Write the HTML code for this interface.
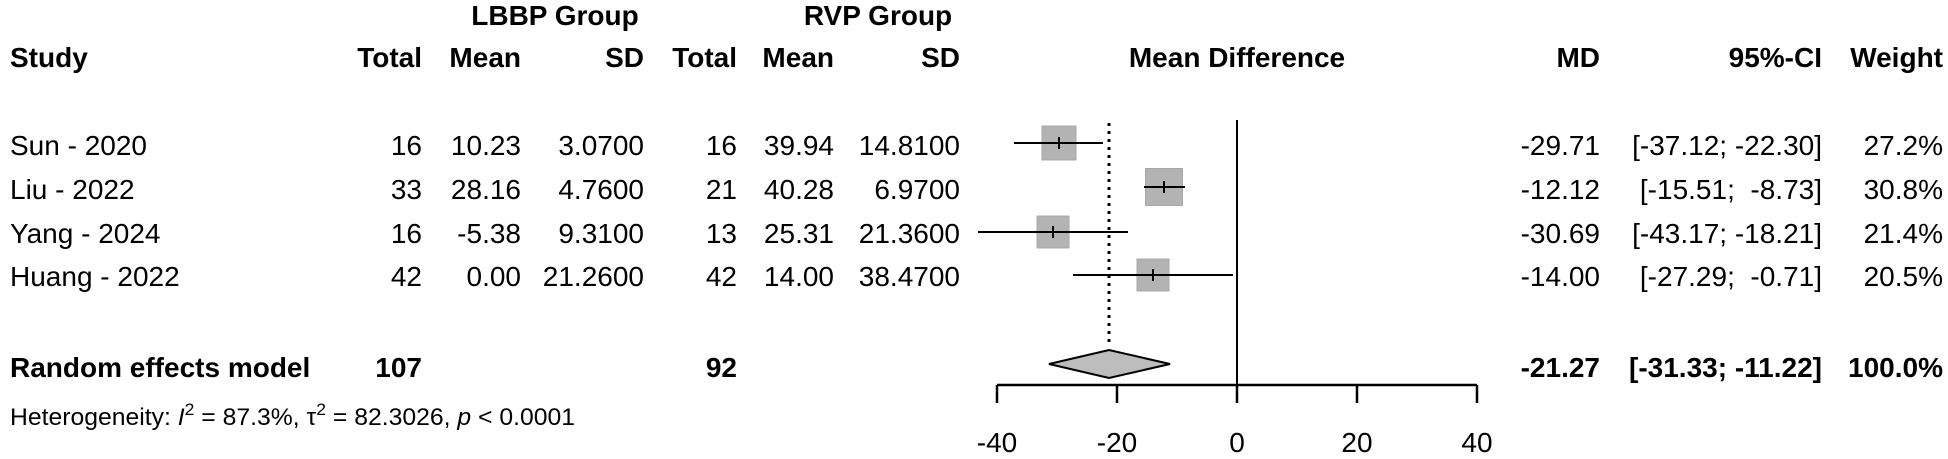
<!DOCTYPE html>
<html><head><meta charset="utf-8"><style>
html,body{margin:0;padding:0;background:#fff;}
svg{display:block;}
text{font-family:"Liberation Sans",Arial,sans-serif;font-size:28px;fill:#000;}
</style></head><body>
<svg width="1948" height="459" viewBox="0 0 1948 459" xmlns="http://www.w3.org/2000/svg">
<g font-weight="bold">
<text x="555" y="25" text-anchor="middle">LBBP Group</text>
<text x="878" y="25" text-anchor="middle">RVP Group</text>
<text x="10" y="67">Study</text>
<text x="422" y="67" text-anchor="end">Total</text>
<text x="521" y="67" text-anchor="end">Mean</text>
<text x="644" y="67" text-anchor="end">SD</text>
<text x="737" y="67" text-anchor="end">Total</text>
<text x="834" y="67" text-anchor="end">Mean</text>
<text x="960" y="67" text-anchor="end">SD</text>
<text x="1237" y="67" text-anchor="middle">Mean Difference</text>
<text x="1600" y="67" text-anchor="end">MD</text>
<text x="1822" y="67" text-anchor="end">95%-CI</text>
<text x="1943" y="67" text-anchor="end">Weight</text>
</g>
<g>
<text x="10" y="155">Sun - 2020</text>
<text x="422" y="155" text-anchor="end">16</text><text x="521" y="155" text-anchor="end">10.23</text><text x="644" y="155" text-anchor="end">3.0700</text>
<text x="737" y="155" text-anchor="end">16</text><text x="834" y="155" text-anchor="end">39.94</text><text x="960" y="155" text-anchor="end">14.8100</text>
<text x="1600" y="155" text-anchor="end">-29.71</text><text x="1822" y="155" text-anchor="end">[-37.12; -22.30]</text><text x="1943" y="155" text-anchor="end">27.2%</text>

<text x="10" y="199">Liu - 2022</text>
<text x="422" y="199" text-anchor="end">33</text><text x="521" y="199" text-anchor="end">28.16</text><text x="644" y="199" text-anchor="end">4.7600</text>
<text x="737" y="199" text-anchor="end">21</text><text x="834" y="199" text-anchor="end">40.28</text><text x="960" y="199" text-anchor="end">6.9700</text>
<text x="1600" y="199" text-anchor="end">-12.12</text><text x="1822" y="199" text-anchor="end" xml:space="preserve">[-15.51;  -8.73]</text><text x="1943" y="199" text-anchor="end">30.8%</text>

<text x="10" y="243">Yang - 2024</text>
<text x="422" y="243" text-anchor="end">16</text><text x="521" y="243" text-anchor="end">-5.38</text><text x="644" y="243" text-anchor="end">9.3100</text>
<text x="737" y="243" text-anchor="end">13</text><text x="834" y="243" text-anchor="end">25.31</text><text x="960" y="243" text-anchor="end">21.3600</text>
<text x="1600" y="243" text-anchor="end">-30.69</text><text x="1822" y="243" text-anchor="end">[-43.17; -18.21]</text><text x="1943" y="243" text-anchor="end">21.4%</text>

<text x="10" y="286">Huang - 2022</text>
<text x="422" y="286" text-anchor="end">42</text><text x="521" y="286" text-anchor="end">0.00</text><text x="644" y="286" text-anchor="end">21.2600</text>
<text x="737" y="286" text-anchor="end">42</text><text x="834" y="286" text-anchor="end">14.00</text><text x="960" y="286" text-anchor="end">38.4700</text>
<text x="1600" y="286" text-anchor="end">-14.00</text><text x="1822" y="286" text-anchor="end" xml:space="preserve">[-27.29;  -0.71]</text><text x="1943" y="286" text-anchor="end">20.5%</text>
</g>
<g font-weight="bold">
<text x="10" y="377">Random effects model</text>
<text x="422" y="377" text-anchor="end">107</text>
<text x="737" y="377" text-anchor="end">92</text>
<text x="1600" y="377" text-anchor="end">-21.27</text>
<text x="1822" y="377" text-anchor="end">[-31.33; -11.22]</text>
<text x="1943" y="377" text-anchor="end">100.0%</text>
</g>
<text x="10" y="425" style="font-size:24px" textLength="565" lengthAdjust="spacingAndGlyphs">Heterogeneity: <tspan font-style="italic">I</tspan><tspan dy="-10" style="font-size:17px">2</tspan><tspan dy="10"> = 87.3%, τ</tspan><tspan dy="-10" style="font-size:17px">2</tspan><tspan dy="10"> = 82.3026, </tspan><tspan font-style="italic">p</tspan> &lt; 0.0001</text>

<line x1="1109" y1="123" x2="1109" y2="347" stroke="#000" stroke-width="3" stroke-dasharray="3,5"/>
<line x1="1237" y1="120" x2="1237" y2="385" stroke="#000" stroke-width="2"/>
<g fill="#b3b3b3" stroke="#a8a8a8" stroke-width="1">
<rect x="1042" y="126" width="34" height="34"/>
<rect x="1145.5" y="168.5" width="37" height="37"/>
<rect x="1037" y="216" width="32" height="32"/>
<rect x="1137" y="259" width="32" height="32"/>
</g>
<g stroke="#000" stroke-width="2">
<line x1="1014" y1="143" x2="1103" y2="143"/><line x1="1059" y1="137" x2="1059" y2="149"/>
<line x1="1144" y1="187" x2="1185" y2="187"/><line x1="1164" y1="181" x2="1164" y2="193"/>
<line x1="978" y1="232" x2="1128" y2="232"/><line x1="1053" y1="226" x2="1053" y2="238"/>
<line x1="1073" y1="275" x2="1233" y2="275"/><line x1="1153" y1="269" x2="1153" y2="281"/>
</g>
<polygon points="1049,364 1109,350 1170,364 1109,378" fill="#bdbdbd" stroke="#000" stroke-width="2"/>
<g stroke="#000" stroke-width="2.5" fill="none">
<line x1="997" y1="385" x2="1477" y2="385"/>
<line x1="997" y1="385" x2="997" y2="403"/>
<line x1="1117" y1="385" x2="1117" y2="403"/>
<line x1="1237" y1="385" x2="1237" y2="403"/>
<line x1="1357" y1="385" x2="1357" y2="403"/>
<line x1="1477" y1="385" x2="1477" y2="403"/>
</g>
<g text-anchor="middle">
<text x="997" y="452">-40</text>
<text x="1117" y="452">-20</text>
<text x="1237" y="452">0</text>
<text x="1357" y="452">20</text>
<text x="1477" y="452">40</text>
</g>
</svg>
</body></html>
